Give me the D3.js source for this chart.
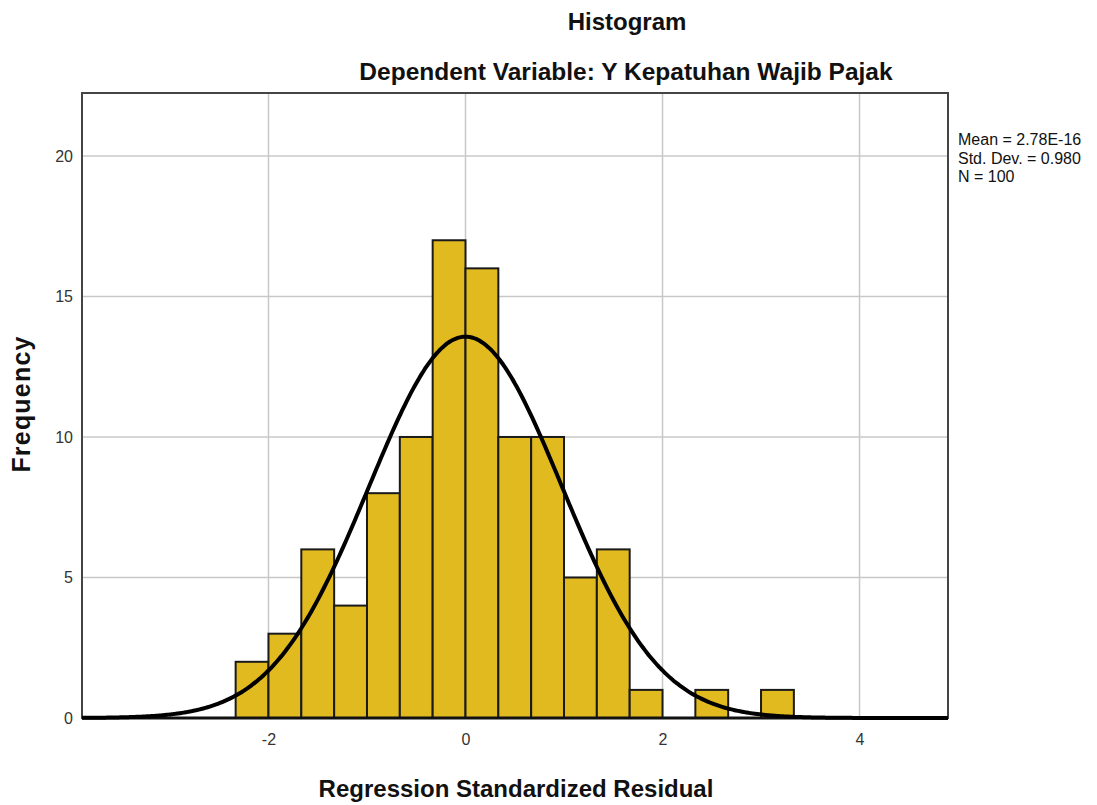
<!DOCTYPE html>
<html>
<head>
<meta charset="utf-8">
<script src="https://cdn.jsdelivr.net/npm/d3@7"></script>
<style>
  html, body { margin: 0; padding: 0; background: #fff; }
  svg { display: block; }
  text { font-family: "Liberation Sans", Arial, sans-serif; }
</style>
</head>
<body>
<svg id="chart" width="1097" height="805"></svg>
<script>
// ---- data ----
const binLower = [-2.3333, -2.0, -1.6667, -1.3333, -1.0, -0.6667, -0.3333, 0.0, 0.3333, 0.6667, 1.0, 1.3333, 1.6667, 2.0, 2.3333, 2.6667, 3.0];
const counts   = [2, 3, 6, 4, 8, 10, 17, 16, 10, 10, 5, 6, 1, 0, 1, 0, 1];
const binWidth = 1 / 3;
const xTicks = [-2, 0, 2, 4];
const yTicks = [0, 5, 10, 15, 20];
const statMean = 2.78e-16;
const statSD = 0.980;
const statN = 100;
const legendLines = ["Mean = 2.78E-16", "Std. Dev. = 0.980", "N = 100"];
const titleText = "Histogram";
const subtitleText = "Dependent Variable: Y Kepatuhan Wajib Pajak";
const xLabel = "Regression Standardized Residual";
const yLabel = "Frequency";

// ---- layout ----
const svg = d3.select("#chart");
const L = 82, R = 948, T = 93, B = 718;
const x = d3.scaleLinear().domain([-3.893, 4.898]).range([L, R]);
const y = d3.scaleLinear().domain([0, 22.24]).range([B, T]);
const fmt = d => String(d);

// grid
svg.append("g").selectAll("line").data(xTicks).join("line")
  .attr("x1", d => x(d)).attr("x2", d => x(d))
  .attr("y1", T).attr("y2", B)
  .attr("stroke", "#c8c8c8").attr("stroke-width", 1.5);
svg.append("g").selectAll("line").data(yTicks.filter(d => d > 0)).join("line")
  .attr("x1", L).attr("x2", R)
  .attr("y1", d => y(d)).attr("y2", d => y(d))
  .attr("stroke", "#c8c8c8").attr("stroke-width", 1.5);

// frame
svg.append("rect").attr("x", L).attr("y", T).attr("width", R - L).attr("height", B - T)
  .attr("fill", "none").attr("stroke", "#444").attr("stroke-width", 2);

// bars
const bins = binLower.map((b, i) => ({ x0: b, x1: b + binWidth, c: counts[i] })).filter(d => d.c > 0);
svg.append("g").selectAll("rect").data(bins).join("rect")
  .attr("x", d => x(d.x0)).attr("width", d => x(d.x1) - x(d.x0))
  .attr("y", d => y(d.c)).attr("height", d => y(0) - y(d.c))
  .attr("fill", "#e0ba1f").attr("stroke", "#1a1a1a").attr("stroke-width", 2);

// baseline
svg.append("line").attr("x1", L).attr("x2", R).attr("y1", B).attr("y2", B)
  .attr("stroke", "#111").attr("stroke-width", 3);

// normal curve
const pdf = v => Math.exp(-0.5 * Math.pow((v - statMean) / statSD, 2)) / (statSD * Math.sqrt(2 * Math.PI));
const xs = d3.range(0, 401).map(i => x.domain()[0] + (x.domain()[1] - x.domain()[0]) * i / 400);
const line = d3.line().x(d => x(d)).y(d => y(statN * binWidth * pdf(d))).curve(d3.curveBasis);
svg.append("path").datum(xs).attr("d", line)
  .attr("fill", "none").attr("stroke", "#000").attr("stroke-width", 4);

// ticks labels
const xAxis = d3.axisBottom(x).tickValues(xTicks).tickSize(0).tickFormat(fmt);
const gx = svg.append("g").attr("transform", `translate(0,${B})`).call(xAxis);
gx.select(".domain").remove();
gx.selectAll("text").attr("dy", null).attr("y", 27).attr("font-size", 16).attr("fill", "#333")
  .attr("font-family", "Liberation Sans, Arial, sans-serif");

const yAxis = d3.axisLeft(y).tickValues(yTicks).tickSize(0).tickFormat(fmt);
const gy = svg.append("g").attr("transform", `translate(${L},0)`).call(yAxis);
gy.select(".domain").remove();
gy.selectAll("text").attr("x", -9).attr("font-size", 16).attr("fill", "#333")
  .attr("font-family", "Liberation Sans, Arial, sans-serif");

// titles
svg.append("text").attr("x", 627).attr("y", 30).attr("text-anchor", "middle")
  .attr("font-size", 24).attr("font-weight", "bold").attr("fill", "#111").text(titleText);
svg.append("text").attr("x", 626).attr("y", 80).attr("text-anchor", "middle")
  .attr("font-size", 24.5).attr("font-weight", "bold").attr("fill", "#111").text(subtitleText);

// axis labels
svg.append("text").attr("x", 516).attr("y", 797).attr("text-anchor", "middle")
  .attr("font-size", 24).attr("font-weight", "bold").attr("fill", "#111").text(xLabel);
svg.append("text").attr("transform", "translate(30,404) rotate(-90)").attr("text-anchor", "middle")
  .attr("font-size", 25).attr("font-weight", "bold").attr("letter-spacing", 1.2)
  .attr("fill", "#111").text(yLabel);

// legend
svg.append("g").selectAll("text").data(legendLines).join("text")
  .attr("x", 958).attr("y", (d, i) => 145 + i * 18.5)
  .attr("font-size", 16).attr("fill", "#111").text(d => d);
</script>
</body>
</html>
